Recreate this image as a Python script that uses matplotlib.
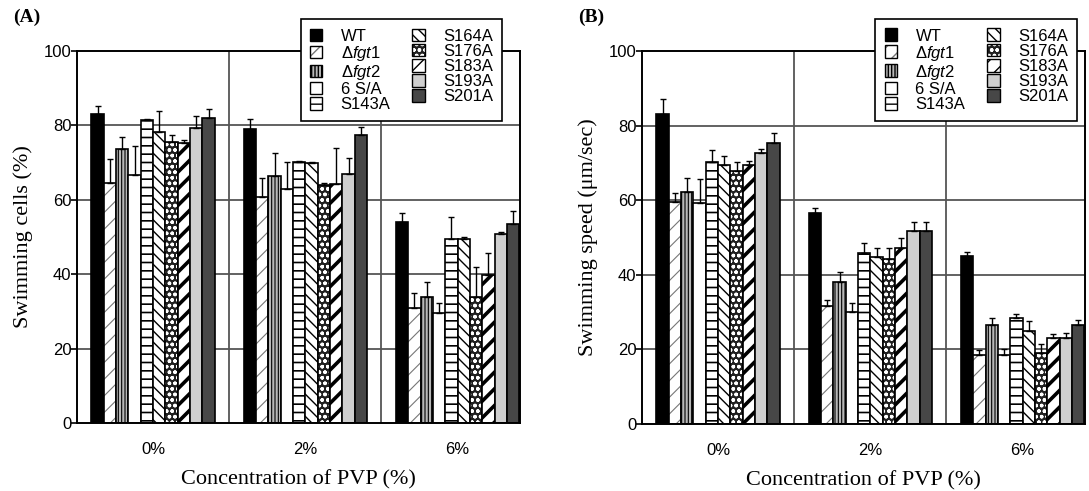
#!/usr/bin/env python3
"""Swimming cells / swimming speed vs PVP concentration, WT and mutants."""
import numpy as np
import matplotlib
matplotlib.use("Agg")
import matplotlib.pyplot as plt
from matplotlib.patches import Rectangle
from matplotlib.legend_handler import HandlerTuple

plt.rcParams["mathtext.fontset"] = "custom"
plt.rcParams["mathtext.rm"] = "Liberation Sans"
plt.rcParams["mathtext.it"] = "Liberation Sans:italic"

CONC = ["0%", "2%", "6%"]
STRAINS = ["WT", "\u0394$\\it{fgt1}$", "\u0394$\\it{fgt2}$", "6 S/A", "S143A",
           "S164A", "S176A", "S183A", "S193A", "S201A"]

# (A) swimming cells (%) -- rows: 0%, 2%, 6% PVP; columns: strains
CELLS = [[83.1, 64.6, 73.6, 66.7, 81.5, 78.3, 75.6, 75.4, 79.2, 81.9],
         [79.0, 60.7, 66.4, 62.9, 70.2, 69.8, 64.0, 64.2, 66.9, 77.4],
         [54.0, 30.8, 33.8, 29.7, 49.5, 49.5, 34.0, 39.8, 50.8, 53.5]]
CELLS_ERR = [[2.0, 6.3, 3.4, 7.8, 0.3, 5.7, 1.8, 0.8, 3.3, 2.4],
             [2.6, 5.1, 6.1, 7.3, 0.3, 0.3, 0.4, 9.6, 4.3, 2.1],
             [2.5, 4.1, 4.2, 2.6, 6.0, 0.5, 7.9, 6.0, 0.5, 3.5]]

# (B) swimming speed (um/sec)
SPEED = [[83.1, 59.6, 62.3, 59.3, 70.2, 69.4, 67.8, 69.4, 72.6, 75.4],
         [56.5, 31.6, 38.2, 29.9, 45.8, 44.9, 44.2, 47.3, 51.8, 51.8],
         [45.0, 18.5, 26.5, 18.5, 28.5, 25.0, 19.0, 23.0, 23.0, 26.5]]
SPEED_ERR = [[4.0, 2.2, 3.6, 6.4, 3.3, 2.4, 2.4, 1.1, 1.0, 2.5],
             [1.3, 1.6, 2.6, 2.6, 2.6, 2.4, 3.1, 2.7, 2.3, 2.3],
             [1.0, 1.4, 2.0, 1.5, 1.0, 2.5, 2.4, 1.0, 1.5, 1.5]]

# face, hatch, hatch colour, hatch linewidth per strain
STYLE = [("black", "", "black", 1.0),
         ("white", "//", "#777777", 0.8),
         ("#b8b8b8", "|||||", "black", 0.8),
         ("white", "", "black", 1.0),
         ("white", "--", "black", 1.2),
         ("white", "\\\\\\", "black", 1.0),
         ("#202020", "ooo", "white", 1.0),
         ("white", "//", "black", 2.6),
         ("#cfcfcf", "", "black", 1.0),
         ("#474747", "", "black", 1.0)]

SANS = ["Liberation Sans", "DejaVu Sans"]
SERIF = ["Liberation Serif", "DejaVu Serif"]
W = 0.081


def styled_bar(ax, x, h, k):
    face, hatch, hcol, hlw = STYLE[k]
    b = ax.bar(x, h, W, color=face, edgecolor=hcol, hatch=hatch, linewidth=0)
    for p in b:
        if hasattr(p, "set_hatch_linewidth"):
            p.set_hatch_linewidth(hlw)
    ax.bar(x, h, W, facecolor="none", edgecolor="black", linewidth=1.2)


def legend_handle(k):
    face, hatch, hcol, hlw = STYLE[k]
    fill = Rectangle((0, 0), 1, 1, facecolor=face, edgecolor=hcol, hatch=hatch, linewidth=0)
    if hasattr(fill, "set_hatch_linewidth"):
        fill.set_hatch_linewidth(hlw)
    edge = Rectangle((0, 0), 1, 1, facecolor="none", edgecolor="black", linewidth=1.0)
    return (fill, edge)


def panel(ax, vals, errs, ylabel, tag, leg_right):
    vals, errs = np.array(vals), np.array(errs)
    x = np.arange(len(CONC))
    for k in range(len(STRAINS)):
        xs = x + (k - 4.5) * W
        styled_bar(ax, xs, vals[:, k], k)
        ax.errorbar(xs, vals[:, k], yerr=[np.zeros(len(CONC)), errs[:, k]], fmt="none",
                    ecolor="black", elinewidth=1.0, capsize=2.5, capthick=1.0)
    ax.set_xlim(-0.5, 2.41)
    ax.set_ylim(0, 100)
    ax.set_yticks([0, 20, 40, 60, 80, 100])
    ax.set_xticks(x)
    ax.set_xticklabels(CONC, family=SANS, fontsize=12)
    for t in ax.get_yticklabels():
        t.set_family(SANS); t.set_fontsize(12)
    ax.tick_params(axis="x", length=0, pad=14)
    ax.tick_params(axis="y", length=4, width=1.2, pad=0)
    for y in [20, 40, 60, 80]:
        ax.axhline(y, color="#555555", lw=1.3, zorder=0)
    for xv in [0.5, 1.5]:
        ax.axvline(xv, color="#555555", lw=1.3, zorder=0)
    for s in ax.spines.values():
        s.set_linewidth(1.4)
    ax.set_ylabel(ylabel, family=SERIF, fontsize=16, labelpad=8)
    ax.set_xlabel("Concentration of PVP (%)", family=SERIF, fontsize=16, labelpad=9)
    ax.text(-0.145, 1.09, tag, transform=ax.transAxes, family=SERIF,
            fontweight="bold", fontsize=14, va="center")
    handles = [legend_handle(k) for k in range(len(STRAINS))]
    leg = ax.legend(handles, STRAINS, ncol=2, loc="upper right",
                    handler_map={tuple: HandlerTuple(ndivide=1, pad=0)},
                    bbox_to_anchor=(leg_right, 1.085), frameon=True, fancybox=False,
                    edgecolor="black", framealpha=1, prop={"family": SANS, "size": 12},
                    handlelength=0.75, handleheight=0.8, handletextpad=1.1,
                    labelspacing=0.0, columnspacing=1.3, borderpad=0.55,
                    borderaxespad=0)
    leg.get_frame().set_linewidth(1.2)
    leg.set_zorder(5)


def main():
    fig = plt.figure(figsize=(10.89, 4.91), dpi=100)
    ax_a = fig.add_axes([77 / 1089, 1 - 423 / 491, 443 / 1089, 372 / 491])
    ax_b = fig.add_axes([642 / 1089, 1 - 424 / 491, 443 / 1089, 373 / 491])
    panel(ax_a, CELLS, CELLS_ERR, "Swimming cells (%)", "(A)", 0.96)
    panel(ax_b, SPEED, SPEED_ERR, "Swimming speed (\u03bcm/sec)", "(B)", 0.982)
    fig.savefig("out.png", dpi=100)


if __name__ == "__main__":
    main()
